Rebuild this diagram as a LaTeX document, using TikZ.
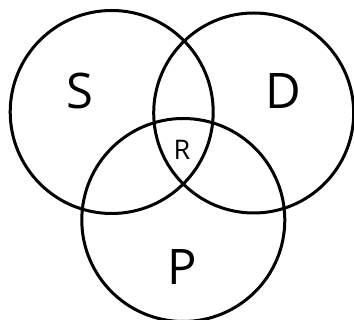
\documentclass[tikz,border=0pt]{standalone}
\usepackage{fontspec}
\setmainfont{Open Sans}
\usetikzlibrary{positioning}

\begin{document}
\begin{tikzpicture}[x=1pt,y=1pt,
    ring/.style={draw=black,line width=3pt,circle,inner sep=0pt,minimum size=203pt},
    big/.style={font=\fontsize{49}{49}\selectfont,inner sep=0pt},
    small/.style={font=\fontsize{27}{27}\selectfont,inner sep=0pt},
]
\useasboundingbox (0,0) rectangle (354,320);

% the three sets
\node[ring] (setS) at (111.7,208) {};
\node[ring,minimum size=200pt] (setD) at (253.7,207) {};
\node[ring] (setP) at (183.3,100) {};

% labels
\node[big] (lblS) at (80,229) {S};
\node[big] (lblD) at (283,229) {D};
\node[small] (lblR) at (182,170) {R};
\node[big] (lblP) at (182,53) {P};
\end{tikzpicture}
\end{document}
